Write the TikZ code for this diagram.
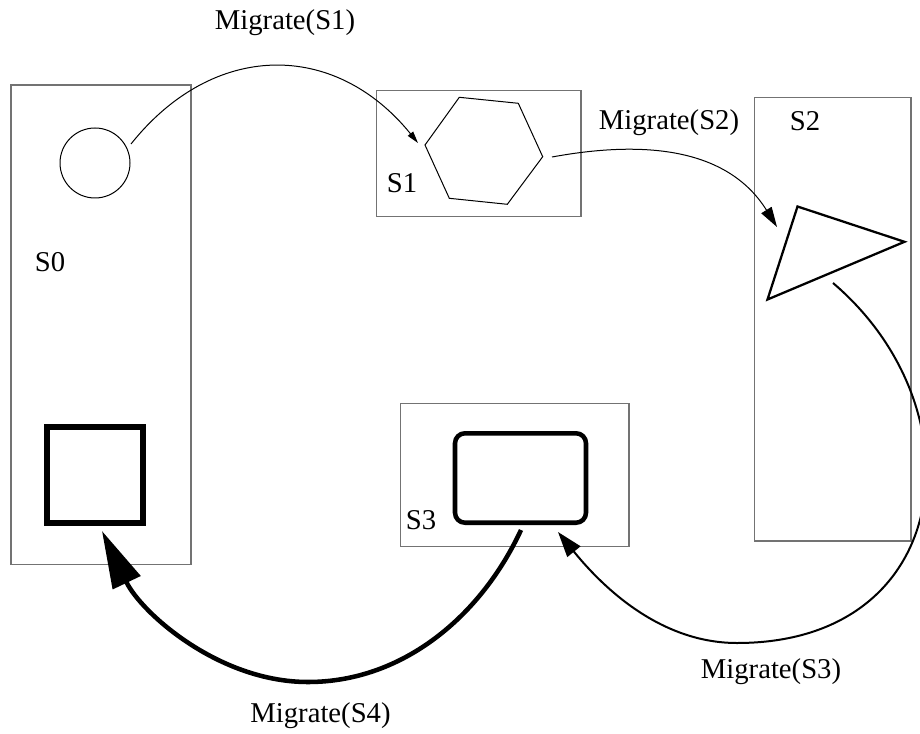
\documentclass[tikz,border=0pt]{standalone}
\usepackage{fontspec}
\setmainfont{Liberation Serif}
\usetikzlibrary{arrows.meta}
\begin{document}
\begin{tikzpicture}[x=0.75pt,y=0.75pt,yscale=-1,
  sitebox/.style={draw=black!55,line width=0.8pt,inner sep=0pt,rectangle},
  lbl/.style={inner sep=0pt,anchor=base,font=\fontsize{21.5}{26}\selectfont},
  obj/.style={draw=black,inner sep=0pt},
  link/.style={draw=black,line width=0.75pt},
]
\useasboundingbox (0,0) rectangle (920,734);

% sites
\node[sitebox,minimum width=135pt,minimum height=359.6pt] (s0) at (101,324.75) {};
\node[sitebox,minimum width=153.2pt,minimum height=94.5pt] (s1) at (478.85,153.7) {};
\node[sitebox,minimum width=117.5pt,minimum height=332.8pt] (s2) at (832.65,319.15) {};
\node[sitebox,minimum width=171.2pt,minimum height=107.6pt] (s3) at (514.85,475) {};

% site names
\node[lbl] (n0) at (50,271.5) {S0};
\node[lbl] (n1) at (402,193) {S1};
\node[lbl] (n2) at (805,131) {S2};
\node[lbl] (n3) at (421,529) {S3};

% objects held by the sites
\node[obj,circle,line width=0.75pt,minimum size=52.5pt] (c0) at (95,163) {};
\node[obj,rectangle,line width=4.5pt,minimum width=72pt,minimum height=72pt] (q0) at (95,475) {};
\node[obj,rectangle,rounded corners=7.5pt,line width=3.4pt,minimum width=98.25pt,minimum height=67.1pt] (r3) at (520.5,478) {};

\coordinate (h1) at (425,145);
\coordinate (h2) at (459.3,97.3);
\coordinate (h3) at (518.3,103.3);
\coordinate (h4) at (542.7,156.7);
\coordinate (h5) at (507.3,204.3);
\coordinate (h6) at (449.3,198.3);
\draw[line width=0.75pt,line join=miter] (h1) -- (h2) -- (h3) -- (h4) -- (h5) -- (h6) -- cycle;

\coordinate (t1) at (797.5,206.5);
\coordinate (t2) at (904.5,241.8);
\coordinate (t3) at (767.5,299.5);
\draw[line width=1.7pt,line join=miter] (t1) -- (t2) -- (t3) -- cycle;

% migration arrows
\coordinate (a1s) at (131,144);
\coordinate (a1e) at (418,143);
\draw[link,-{Triangle[length=9pt,width=5pt]}]
  (a1s) .. controls (213,41) and (334.5,40) .. (a1e);

\coordinate (a2s) at (552,157);
\coordinate (a2e) at (777,227);
\draw[link,-{Triangle[length=15pt,width=9pt]}]
  (a2s) .. controls (650,139) and (729.3,150.5) .. (a2e);

\coordinate (a3s) at (833,283);
\coordinate (a3m) at (737,643);
\coordinate (a3e) at (558,532);
\draw[line width=1.5pt,-{Triangle[length=19pt,width=12.5pt]}]
  (a3s) .. controls (981,409) and (955,643) .. (a3m)
        .. controls (662,643) and (605,590) .. (a3e);

\coordinate (a4s) at (521,530);
\coordinate (a4m) at (308,682);
\coordinate (a4e) at (102,531);
\draw[line width=3.4pt,-{Triangle[length=43pt,width=22.5pt]}]
  (a4s) .. controls (481,616) and (403,682) .. (a4m)
        .. controls (218,682) and (140.7,612) .. (a4e);

% arrow captions
\node[lbl] (m1) at (285,30) {Migrate(S1)};
\node[lbl] (m2) at (669,130) {Migrate(S2)};
\node[lbl] (m3) at (771,678) {Migrate(S3)};
\node[lbl] (m4) at (320.5,722) {Migrate(S4)};
\end{tikzpicture}
\end{document}
